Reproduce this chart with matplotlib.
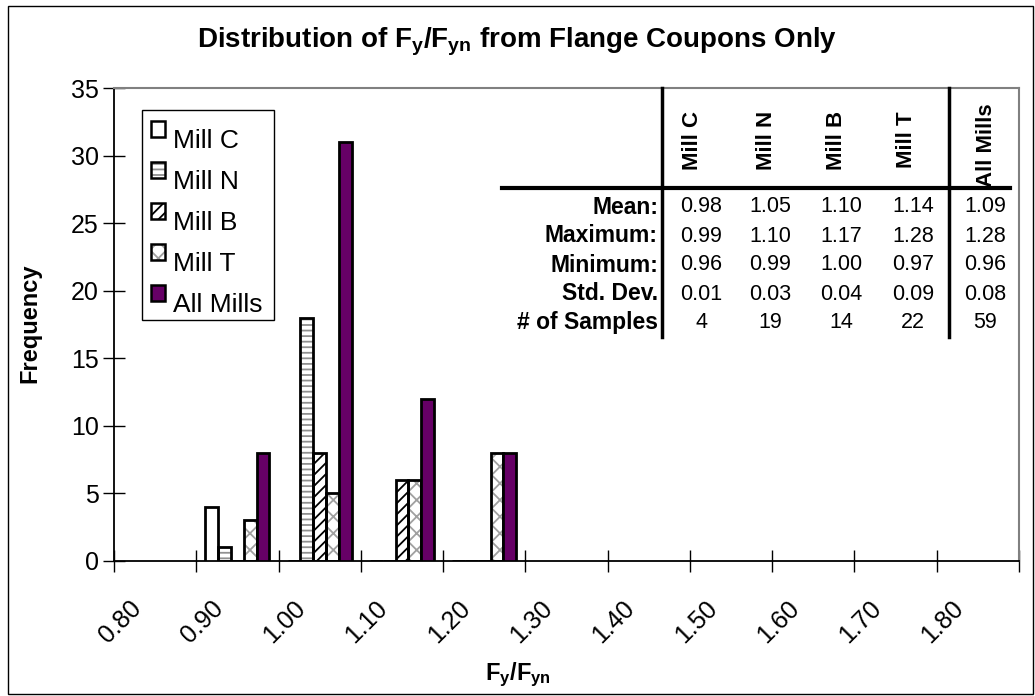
import numpy as np
import matplotlib
matplotlib.use("Agg")
import matplotlib.pyplot as plt
from matplotlib.patches import Patch, Rectangle
from matplotlib.transforms import ScaledTranslation

plt.rcParams['font.family'] = ['Liberation Sans', 'DejaVu Sans']
plt.rcParams['mathtext.fontset'] = 'custom'
plt.rcParams['mathtext.rm'] = 'Liberation Sans'
plt.rcParams['mathtext.bf'] = 'Liberation Sans:bold'
plt.rcParams['mathtext.it'] = 'Liberation Sans:italic'
plt.rcParams['hatch.linewidth'] = 1.3

# histogram bins (centre of each 0.10 wide bin) and counts per mill
bin_centers = [0.95, 1.05, 1.15, 1.25]
mill_c = [4, 0, 0, 0]
mill_n = [1, 18, 0, 0]
mill_b = [0, 8, 6, 0]
mill_t = [3, 5, 6, 8]
all_mills = [8, 31, 12, 8]

series_names = ['Mill C', 'Mill N', 'Mill B', 'Mill T', 'All Mills']
tick_values = [0.80, 0.90, 1.00, 1.10, 1.20, 1.30, 1.40, 1.50, 1.60, 1.70, 1.80, 1.90]
tick_labels = ['0.80', '0.90', '1.00', '1.10', '1.20', '1.30', '1.40', '1.50',
               '1.60', '1.70', '1.80', '']

# summary statistics
stat_labels = ['Mean:', 'Maximum:', 'Minimum:', 'Std. Dev.', '# of Samples']
stat_mean = [0.98, 1.05, 1.10, 1.14, 1.09]
stat_max = [0.99, 1.10, 1.17, 1.28, 1.28]
stat_min = [0.96, 0.99, 1.00, 0.97, 0.96]
stat_std = [0.01, 0.03, 0.04, 0.09, 0.08]
stat_n = [4, 19, 14, 22, 59]

W, H = 1035, 696
fig = plt.figure(figsize=(W / 100, H / 100), dpi=100)
ax = fig.add_axes([114 / W, (H - 561) / H, 905 / W, 473 / H])

# (fill colour, hatch, hatch colour)
styles = [
    ('white', '', 'black'),
    ('white', '---', '#909090'),
    ('white', '///', 'black'),
    ('white', 'xx', '#a0a0a0'),
    ('#660066', '', 'black'),
]
data = [mill_c, mill_n, mill_b, mill_t, all_mills]
bw = 0.0156
x = np.array(bin_centers)
handles = []
for i, (vals, (fc, hatch, hc)) in enumerate(zip(data, styles)):
    pos = x + (i - 2) * bw
    if hatch:
        ax.bar(pos, vals, width=bw, color=fc, edgecolor=hc, hatch=hatch, linewidth=0, zorder=2)
    ax.bar(pos, vals, width=bw, facecolor=fc if not hatch else 'none',
           edgecolor='black', linewidth=2, zorder=3)
    handles.append(Patch(facecolor=fc, edgecolor=hc, hatch=hatch))

ax.set_xlim(0.80, 1.90)
ax.set_ylim(0, 35)
ax.set_yticks(range(0, 36, 5))
ax.set_xticks(tick_values)
ax.set_xticklabels(tick_labels, rotation=45, ha='center')
ax.tick_params(direction='inout', length=16, width=1, labelsize=18, pad=3)
ax.tick_params(axis='x', labelsize=18, pad=17)
shift = ScaledTranslation(6 / 100, 0, fig.dpi_scale_trans)
for lab in ax.get_xticklabels():
    lab.set_transform(lab.get_transform() + shift)
for s in ['left', 'bottom']:
    ax.spines[s].set_linewidth(1.3)
for s in ['top', 'right']:
    ax.spines[s].set_color('#808080')
    ax.spines[s].set_linewidth(1.5)


class KeyHandler:
    # hatched square with a black outline, raised a little above the text centre
    def legend_artist(self, legend, orig_handle, fontsize, handlebox):
        x0, y0 = -handlebox.xdescent, -handlebox.ydescent + 7
        w, h = handlebox.width, handlebox.height
        tr = handlebox.get_transform()
        fill = Rectangle((x0, y0), w, h, facecolor=orig_handle.get_facecolor(),
                         edgecolor=orig_handle.get_edgecolor(), hatch=orig_handle.get_hatch(),
                         linewidth=0, transform=tr)
        edge = Rectangle((x0, y0), w, h, facecolor='none', edgecolor='black',
                         linewidth=1.8, transform=tr)
        handlebox.add_artist(fill)
        handlebox.add_artist(edge)
        return edge


leg = ax.legend(handles, series_names, loc='upper left', bbox_to_anchor=(0.0309, 0.9323),
                borderaxespad=0, fontsize=19, frameon=False,
                handlelength=0.53, handleheight=0.53,
                handletextpad=0.3, labelspacing=0.64, borderpad=0.35,
                handler_map={Patch: KeyHandler()})

# overlay in pixel units for title, labels, table and outer frame
ov = fig.add_axes([0, 0, 1, 1])
ov.set_xlim(0, W)
ov.set_ylim(H, 0)
ov.axis('off')
ov.add_patch(Rectangle((8, 6), 1025, 688, fill=False, ec='black', lw=1))
# legend border
ov.add_patch(Rectangle((142, 110), 132, 210, fill=False, ec='black', lw=1))

ov.text(517, 42, r'Distribution of $\mathbf{F}_\mathbf{y}\mathbf{/F}_\mathbf{yn}$ from Flange Coupons Only',
        ha='center', va='center', fontsize=20, fontweight='bold')
ov.text(30, 323, 'Frequency', rotation=90, ha='center', va='center', fontsize=17,
        fontweight='bold')
ov.text(518, 675, r'$\mathbf{F}_\mathbf{y}\mathbf{/F}_\mathbf{yn}$', ha='center', va='center',
        fontsize=17)

head_x = [692, 766, 836, 906, 986]
head_y = [140, 140, 140, 140, 145]
col_x = [701, 770, 841, 913, 985]
row_y = [207, 236, 265, 294, 323]
for hx, hy, name in zip(head_x, head_y, series_names):
    ov.text(hx, hy, name, rotation=90, ha='center', va='center', fontsize=16,
            fontweight='bold')
rows = [stat_mean, stat_max, stat_min, stat_std]
for ry, lab in zip(row_y, stat_labels):
    ov.text(658, ry, lab, ha='right', va='center', fontsize=16.5, fontweight='bold')
for ry, vals in zip(row_y, rows):
    for cx, v in zip(col_x, vals):
        ov.text(cx, ry, '%.2f' % v, ha='center', va='center', fontsize=15.5)
for cx, v in zip(col_x, stat_n):
    ov.text(cx, row_y[4], str(v), ha='center', va='center', fontsize=15.5)

ov.plot([662, 662], [88, 337], color='black', lw=2.5)
ov.plot([949, 949], [88, 337], color='black', lw=2.5)
ov.plot([502, 1010], [188, 188], color='black', lw=3)

fig.savefig('out.png', dpi=100)
